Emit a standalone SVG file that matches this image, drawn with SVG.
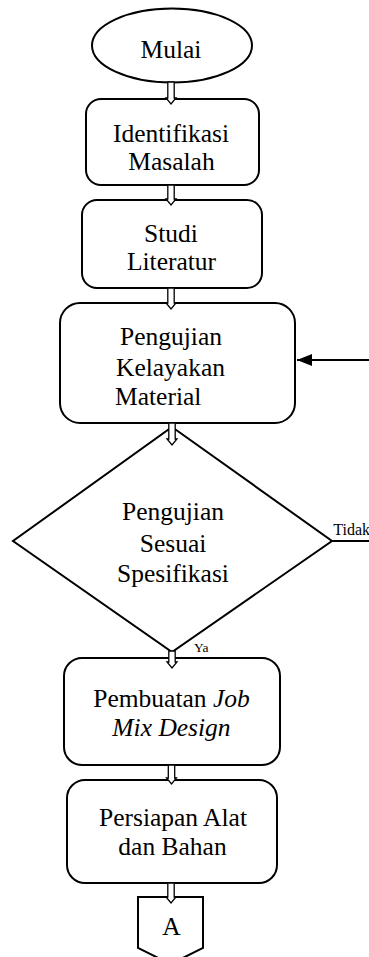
<svg xmlns="http://www.w3.org/2000/svg" width="369" height="957" viewBox="0 0 369 957">
  <style>
    .shape { fill: #fff; stroke: #000; stroke-width: 2; }
    text { font-family: "Liberation Serif", "Times New Roman", "DejaVu Serif", serif; fill: #000; }
    .t { font-size: 25.5px; text-anchor: middle; }
    .blk { fill: #fff; stroke: #000; stroke-width: 1.3; stroke-linejoin: miter; }
    .line { fill: none; stroke: #000; stroke-width: 2; }
  </style>
  <defs>
    <marker id="ah" markerUnits="userSpaceOnUse" markerWidth="16" markerHeight="14" refX="15" refY="7" orient="auto">
      <path d="M0,1 L15,7 L0,13 Z" fill="#000"/>
    </marker>
  </defs>

  <rect width="369" height="957" fill="#fff"/>

  <g id="mulai">
    <ellipse class="shape" cx="172" cy="45.5" rx="80" ry="37"/>
    <text class="t" x="171" y="58">Mulai</text>
  </g>

  <g id="identifikasi">
    <rect class="shape" x="86" y="99" width="173" height="86" rx="15"/>
    <text class="t" x="171" y="141.5">Identifikasi</text>
    <text class="t" x="171.5" y="170">Masalah</text>
  </g>

  <g id="studi">
    <rect class="shape" x="82" y="200" width="180" height="88" rx="15"/>
    <text class="t" x="171" y="241.5">Studi</text>
    <text class="t" x="171.5" y="270">Literatur</text>
  </g>

  <g id="pengujian-kelayakan">
    <rect class="shape" x="60" y="303" width="235" height="120" rx="20"/>
    <text class="t" x="171" y="345">Pengujian</text>
    <text class="t" x="170.5" y="376">Kelayakan</text>
    <text class="t" x="115" y="405" style="text-anchor:start">Material</text>
  </g>

  <g id="pengujian-sesuai">
    <polygon class="shape" points="172,427 332,541 172,652 13,541"/>
    <text class="t" x="173" y="520">Pengujian</text>
    <text class="t" x="173" y="551.5">Sesuai</text>
    <text class="t" x="173" y="581.5">Spesifikasi</text>
  </g>

  <g id="pembuatan">
    <rect class="shape" x="64" y="658" width="216" height="107" rx="18"/>
    <text class="t" x="171.5" y="706.5">Pembuatan <tspan font-style="italic">Job</tspan></text>
    <text class="t" x="171.5" y="736" font-style="italic">Mix Design</text>
  </g>

  <g id="persiapan">
    <rect class="shape" x="67" y="780" width="210" height="103" rx="18"/>
    <text class="t" x="173" y="826">Persiapan Alat</text>
    <text class="t" x="172.5" y="855">dan Bahan</text>
  </g>

  <g id="konektor-a">
    <path class="shape" d="M138,897 H203 V948 L170.5,964 L138,948 Z"/>
    <text class="t" x="171.5" y="935">A</text>
  </g>

  <g id="connectors">
    <path class="blk" d="M167.8,82 V98 H166 L171,104 L176,98 H174.2 V82 Z"/>
    <path class="blk" d="M167.8,185 V199 H166 L171,205 L176,199 H174.2 V185 Z"/>
    <path class="blk" d="M167.8,288 V303 H166 L171,309 L176,303 H174.2 V288 Z"/>
    <path class="blk" d="M168.8,423 V439 H167 L172,445 L177,439 H175.2 V423 Z"/>
    <path class="blk" d="M168.8,651 V662 H167 L172,668 L177,662 H175.2 V651 Z"/>
    <path class="blk" d="M168.3,765 V778 H166.5 L171.5,784 L176.5,778 H174.7 V765 Z"/>
    <path class="blk" d="M167.8,883 V897 H166 L171,903 L176,897 H174.2 V883 Z"/>
    <path class="line" d="M332,541 H370 V360 H297" marker-end="url(#ah)"/>
    <text x="333.3" y="535" font-size="16">Tidak</text>
    <text x="194" y="651.5" font-size="13.5">Ya</text>
  </g>
</svg>
